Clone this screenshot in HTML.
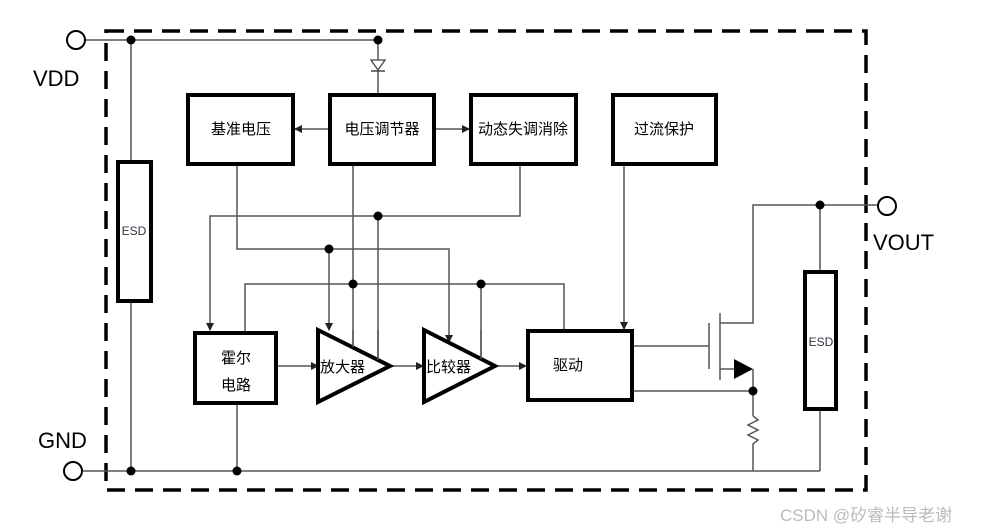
<!DOCTYPE html>
<html><head><meta charset="utf-8"><style>
html,body{margin:0;padding:0;background:#fff;width:983px;height:532px;overflow:hidden}
svg{display:block}
text{font-family:"Liberation Sans","Noto Sans CJK SC",sans-serif}
</style></head><body>
<svg width="983" height="532" viewBox="0 0 983 532" xmlns="http://www.w3.org/2000/svg">
<defs>
<marker id="a" markerWidth="8" markerHeight="8" refX="7" refY="4" orient="auto" markerUnits="userSpaceOnUse"><path d="M0,0 L8,4 L0,8 Z" fill="#222"/></marker>
</defs>
<rect x="0" y="0" width="983" height="532" fill="#fff"/>
<rect x="106" y="31" width="760" height="459" fill="none" stroke="#000" stroke-width="3.5" stroke-dasharray="18,10"/>
<g stroke="#555" stroke-width="1.5" fill="none">
<line x1="85" y1="40" x2="378" y2="40"/>
<line x1="131" y1="40" x2="131" y2="160"/>
<line x1="131" y1="302" x2="131" y2="471"/>
<line x1="378" y1="40" x2="378" y2="93"/>
<line x1="82" y1="471" x2="820" y2="471"/>
<line x1="328" y1="129" x2="295" y2="129" marker-end="url(#a)"/>
<line x1="436" y1="129" x2="469" y2="129" marker-end="url(#a)"/>
<polyline points="520,166 520,216 210,216 210,330" marker-end="url(#a)"/>
<line x1="378" y1="216" x2="378" y2="360"/>
<polyline points="237,166 237,249 449,249 449,342" marker-end="url(#a)"/>
<line x1="329" y1="249" x2="329" y2="330" marker-end="url(#a)"/>
<line x1="353" y1="166" x2="353" y2="347"/>
<polyline points="245,331 245,284 564,284 564,329"/>
<line x1="481" y1="284" x2="481" y2="359"/>
<line x1="624" y1="166" x2="624" y2="329" marker-end="url(#a)"/>
<line x1="278" y1="366" x2="318" y2="366" marker-end="url(#a)"/>
<line x1="390" y1="366" x2="423" y2="366" marker-end="url(#a)"/>
<line x1="495" y1="366" x2="526" y2="366" marker-end="url(#a)"/>
<line x1="237" y1="405" x2="237" y2="471"/>
<line x1="634" y1="346" x2="709" y2="346"/>
<line x1="634" y1="391" x2="753" y2="391"/>
<line x1="709" y1="323" x2="709" y2="369"/>
<line x1="720" y1="313" x2="720" y2="380"/>
<polyline points="720,323 753,323 753,205 878,205"/>
<line x1="720" y1="369" x2="740" y2="369"/>
<line x1="753" y1="369" x2="753" y2="416"/>
<polyline points="753,416 758,420 748,425 758,430 748,435 758,440 753,444 753,471"/>
<line x1="820" y1="205" x2="820" y2="270"/>
<line x1="820" y1="411" x2="820" y2="471"/>
</g>
<path d="M371,60 L385,60 L378,70 Z" fill="#fff" stroke="#444" stroke-width="1.3"/>
<line x1="371" y1="71" x2="385" y2="71" stroke="#444" stroke-width="1.5"/>
<path d="M734,359 L753,369 L734,379 Z" fill="#000"/>
<g fill="#000">
<circle cx="131" cy="40" r="4.5"/><circle cx="378" cy="40" r="4.5"/>
<circle cx="131" cy="471" r="4.5"/><circle cx="237" cy="471" r="4.5"/>
<circle cx="378" cy="216" r="4.5"/><circle cx="329" cy="249" r="4.5"/>
<circle cx="353" cy="284" r="4.5"/><circle cx="481" cy="284" r="4.5"/>
<circle cx="753" cy="391" r="4.5"/><circle cx="820" cy="205" r="4.5"/>
</g>
<g fill="#fff" stroke="#000" stroke-width="2">
<circle cx="76" cy="40" r="9"/><circle cx="73" cy="471" r="9"/><circle cx="887" cy="206" r="9"/>
</g>
<g fill="#fff" stroke="#000" stroke-width="4">
<rect x="188" y="95" width="105" height="69"/>
<rect x="330" y="95" width="104" height="69"/>
<rect x="471" y="95" width="105" height="69"/>
<rect x="613" y="95" width="103" height="69"/>
<rect x="118" y="162" width="33" height="139"/>
<rect x="195" y="333" width="81" height="70"/>
<rect x="528" y="331" width="104" height="69"/>
<rect x="805" y="272" width="31" height="137"/>
<path d="M318,330 L390,366 L318,402 Z"/>
<path d="M424,330 L495,366 L424,402 Z"/>
</g>
<g stroke="#555" stroke-width="1.5"><line x1="378" y1="330" x2="378" y2="360"/><line x1="353" y1="330" x2="353" y2="347"/><line x1="481" y1="330" x2="481" y2="359"/></g>
<g font-size="15" fill="#000">
<text x="241" y="134" text-anchor="middle">基准电压</text>
<text x="382" y="134" text-anchor="middle">电压调节器</text>
<text x="523" y="134" text-anchor="middle">动态失调消除</text>
<text x="664" y="134" text-anchor="middle">过流保护</text>
<text x="236" y="363" text-anchor="middle">霍尔</text>
<text x="236" y="390" text-anchor="middle">电路</text>
<text x="553" y="370">驱动</text>
<text x="320" y="372">放大器</text>
<text x="426" y="372">比较器</text>
</g>
<g font-size="12" fill="#334">
<text x="134" y="235" text-anchor="middle">ESD</text>
<text x="821" y="346" text-anchor="middle">ESD</text>
</g>
<g font-size="22" fill="#000">
<text x="33" y="86">VDD</text>
<text x="38" y="448">GND</text>
<text x="873" y="250">VOUT</text>
</g>
<text x="780" y="521" font-size="17" fill="#bbb">CSDN @矽睿半导老谢</text>
</svg>
</body></html>
